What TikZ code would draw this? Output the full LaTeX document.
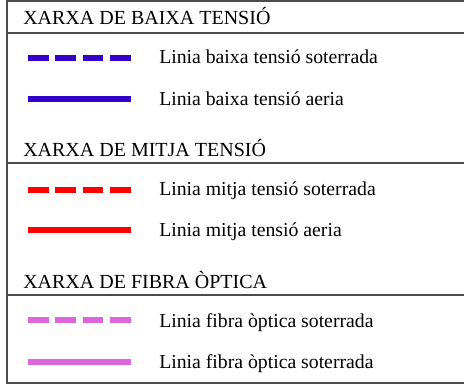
\documentclass[tikz,border=0pt]{standalone}
\usepackage{fontspec}
\setmainfont{Liberation Serif}
\usepackage{tikz}
\usetikzlibrary{positioning}

\definecolor{btblue}{RGB}{51,0,204}
\definecolor{mtred}{RGB}{255,0,0}
\definecolor{fopink}{RGB}{221,102,221}

\tikzset{
    frameline/.style={draw=black!70, line width=0.9pt},
    header/.style={anchor=base west, inner sep=0pt, font=\fontsize{15}{17}\selectfont},
    itemtext/.style={anchor=base west, inner sep=0pt, font=\fontsize{14.8}{17}\selectfont},
    soterr/.style={line width=3.8pt, dash pattern=on 15.5pt off 5pt},
    aeri/.style={line width=3.8pt}
}

\begin{document}
\begin{tikzpicture}[x=0.75pt, y=-0.75pt]
        \useasboundingbox (0,0) rectangle (464,385);

        % Frame of the legend
        \draw[frameline] (464,1) -- (7,1) -- (7,383) -- (464,383);
        \draw[frameline] (7,33) -- (464,33);
        \draw[frameline] (7,163) -- (464,163);
        \draw[frameline] (7,295) -- (464,295);

        % Baixa tensio
        \node[header] (hbt) at (23,25) {XARXA DE BAIXA TENSIÓ};
        \draw[soterr, btblue] (28,58) -- (131,58);
        \node[itemtext] (bts) at (159,64) {Linia baixa tensió soterrada};
        \draw[aeri, btblue] (28,99) -- (131,99);
        \node[itemtext] (bta) at (159,105) {Linia baixa tensió aeria};

        % Mitja tensio
        \node[header] (hmt) at (23,156) {XARXA DE MITJA TENSIÓ};
        \draw[soterr, mtred] (28,190) -- (131,190);
        \node[itemtext] (mts) at (159,195) {Linia mitja tensió soterrada};
        \draw[aeri, mtred] (28,230) -- (131,230);
        \node[itemtext] (mta) at (159,236) {Linia mitja tensió aeria};

        % Fibra optica
        \node[header] (hfo) at (23,288) {XARXA DE FIBRA ÒPTICA};
        \draw[soterr, fopink] (28,320) -- (131,320);
        \node[itemtext] (fos) at (159,327) {Linia fibra òptica soterrada};
        \draw[aeri, fopink] (28,362) -- (131,362);
        \node[itemtext] (foa) at (159,368) {Linia fibra òptica soterrada};
\end{tikzpicture}
\end{document}
